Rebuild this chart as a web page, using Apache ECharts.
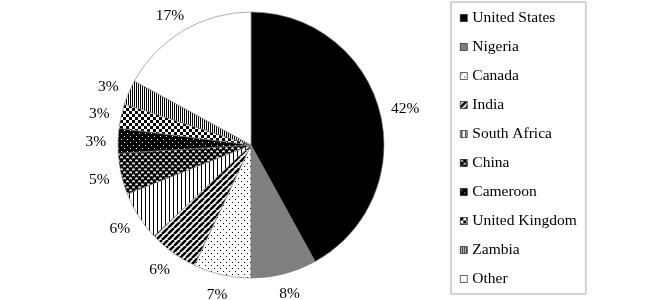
<!DOCTYPE html>
<html>
<head>
<meta charset="utf-8">
<script src="https://cdn.jsdelivr.net/npm/echarts@6/dist/echarts.min.js"></script>
<style>
html,body{margin:0;padding:0;background:#fff;}
#chart{width:650px;height:300px;}
</style>
</head>
<body>
<div id="chart"></div>
<script>
var categories = ['United States','Nigeria','Canada','India','South Africa','China','Cameroon','United Kingdom','Zambia','Other'];
var shares = [42, 8, 7, 6, 6, 5, 3, 3, 3, 17];

function pat(w, h, draw) {
  var c = document.createElement('canvas');
  c.width = w; c.height = h;
  var g = c.getContext('2d');
  draw(g, w, h);
  return { image: c, repeat: 'repeat' };
}
var fills = [
  '#000000',
  '#808080',
  pat(6, 6, function (g) { g.fillStyle = '#fff'; g.fillRect(0,0,6,6); g.fillStyle = '#000'; g.fillRect(1,1,1,1); g.fillRect(4,4,1,1); }),
  pat(6, 6, function (g) { g.fillStyle = '#fff'; g.fillRect(0,0,6,6); g.strokeStyle = '#000'; g.lineWidth = 2.6;
    for (var k = -6; k <= 12; k += 6) { g.beginPath(); g.moveTo(k, 6); g.lineTo(k + 6, 0); g.stroke(); } }),
  pat(4, 4, function (g) { g.fillStyle = '#fff'; g.fillRect(0,0,4,4); g.fillStyle = '#000'; g.fillRect(1,0,1,4); }),
  pat(6, 6, function (g) { g.fillStyle = '#000'; g.fillRect(0,0,6,6); g.fillStyle = '#fff';
    [[1.5,1.5],[4.5,4.5]].forEach(function (p) { g.beginPath(); g.arc(p[0], p[1], 1.3, 0, Math.PI*2); g.fill(); });
    g.fillStyle = '#000'; g.fillRect(1,2,1,1); g.fillRect(4,5,1,1); }),
  pat(6, 6, function (g) { g.fillStyle = '#000'; g.fillRect(0,0,6,6); g.fillStyle = '#fff'; g.fillRect(1,1,1,1); g.fillRect(4,4,1,1); }),
  pat(6, 6, function (g) { g.fillStyle = '#fff'; g.fillRect(0,0,6,6); g.fillStyle = '#000'; g.fillRect(0,0,3,3); g.fillRect(3,3,3,3); }),
  pat(2, 2, function (g) { g.fillStyle = '#fff'; g.fillRect(0,0,2,2); g.fillStyle = '#000'; g.fillRect(0,0,1,2); }),
  '#ffffff'
];

var CX = 251, CY = 145, R = 133, GAP = 12;
var total = shares.reduce(function (a, b) { return a + b; }, 0);
var cum = [];
shares.reduce(function (a, v, i) { cum[i] = a; return a + v; }, 0);

var chart = echarts.init(document.getElementById('chart'), null, { renderer: 'canvas' });
chart.setOption({
  animation: false,
  backgroundColor: '#fff',
  textStyle: { fontFamily: 'Liberation Serif' },
  legend: {
    orient: 'vertical',
    left: 451,
    top: 2,
    padding: [8, 9, 7, 9],
    itemGap: 13,
    itemWidth: 7,
    itemHeight: 7,
    icon: 'rect',
    borderColor: '#aaaaaa',
    borderWidth: 1,
    textStyle: { fontFamily: 'Liberation Serif', fontSize: 15.5, color: '#000', lineHeight: 15 },
    itemStyle: { borderColor: '#000', borderWidth: 0.6 },
    data: categories
  },
  series: [{
    type: 'pie',
    center: [CX, CY],
    radius: R,
    startAngle: 90,
    clockwise: true,
    avoidLabelOverlap: false,
    itemStyle: { borderColor: '#777', borderWidth: 0.6 },
    label: {
      show: true,
      position: 'outside',
      formatter: '{c}%',
      fontFamily: 'Liberation Serif',
      fontSize: 15.5,
      color: '#000'
    },
    labelLine: { show: false, length: 8, length2: 0 },
    labelLayout: function (p) {
      var i = p.dataIndex;
      var th = (cum[i] + shares[i] / 2) / total * Math.PI * 2;
      var s = Math.sin(th), c = Math.cos(th);
      var w = p.labelRect ? p.labelRect.width : 24, h = 14;
      return {
        x: CX + (R + GAP) * s + w / 2 * s,
        y: CY - (R + GAP) * c - h / 2 * c + 2,
        align: 'center',
        verticalAlign: 'middle'
      };
    },
    data: categories.map(function (n, i) {
      return { name: n, value: shares[i], itemStyle: { color: fills[i] } };
    })
  }]
});
</script>
</body>
</html>
